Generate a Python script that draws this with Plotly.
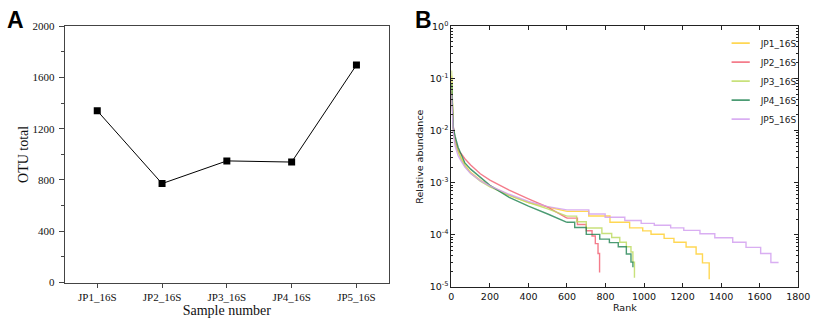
import plotly.graph_objects as go

# ---------------- Panel A data ----------------
samples = ["JP1_16S", "JP2_16S", "JP3_16S", "JP4_16S", "JP5_16S"]
otu_total = [1340, 772, 949, 940, 1697]

# ---------------- Panel B data (rank-abundance curves) ----------------
# smooth head of each curve
head_rank = [1, 5, 10, 20, 35, 50, 70, 100, 150, 200, 300, 400, 500, 600]
jp1_head = [0.112, 0.0251, 0.0105, 0.00603, 0.00398, 0.00302, 0.00219, 0.00158, 0.00112, 8.7e-4, 5.75e-4, 4.17e-4, 3.39e-4, 2.82e-4]
jp2_head = [0.056, 0.0224, 0.012, 0.0063, 0.00417, 0.00363, 0.00288, 0.00219, 0.00148, 0.00112, 7.2e-4, 4.9e-4, 3.39e-4, 2.09e-4]
jp3_head = [0.141, 0.0282, 0.010, 0.00562, 0.0038, 0.00282, 0.00209, 0.00151, 0.00107, 8.3e-4, 5.75e-4, 4.17e-4, 3.16e-4, 2.29e-4]
jp4_head = [0.079, 0.0251, 0.0112, 0.0076, 0.00479, 0.00355, 0.0024, 0.00182, 0.00126, 8.9e-4, 5.25e-4, 3.55e-4, 2.51e-4, 1.74e-4]
jp5_head = [0.050, 0.020, 0.0089, 0.0050, 0.0033, 0.00263, 0.0020, 0.00151, 0.0011, 8.7e-4, 6.0e-4, 4.37e-4, 3.47e-4, 3.02e-4]

# stepped tails (value holds from each rank until the next one)
jp1_tail_rank = [600, 713, 823, 925, 993, 1036, 1104, 1155, 1218, 1270, 1303, 1338]
jp1_tail = [2.82e-4, 2.3e-4, 1.74e-4, 1.36e-4, 1.19e-4, 1.03e-4, 8.55e-5, 7.2e-5, 5.85e-5, 4.3e-5, 2.9e-5, 1.41e-5]
jp2_tail_rank = [600, 654, 700, 730, 747, 761, 769]
jp2_tail = [2.09e-4, 1.58e-4, 1.2e-4, 9.5e-5, 6.8e-5, 4.4e-5, 1.9e-5]
jp3_tail_rank = [600, 650, 700, 781, 832, 874, 908, 932, 942, 950]
jp3_tail = [2.29e-4, 1.78e-4, 1.35e-4, 1.06e-4, 8.9e-5, 7.2e-5, 5.9e-5, 4.7e-5, 3.0e-5, 1.5e-5]
jp4_tail_rank = [600, 640, 700, 770, 820, 866, 908, 932, 942]
jp4_tail = [1.74e-4, 1.38e-4, 1.02e-4, 8.3e-5, 7.1e-5, 5.9e-5, 4.3e-5, 3.0e-5, 2.4e-5]
jp5_tail_rank = [600, 713, 798, 900, 985, 1053, 1138, 1206, 1290, 1367, 1460, 1529, 1605, 1658, 1698]
jp5_tail = [3.02e-4, 2.51e-4, 2.17e-4, 1.89e-4, 1.66e-4, 1.53e-4, 1.36e-4, 1.22e-4, 1.05e-4, 8.8e-5, 7.2e-5, 5.75e-5, 4.4e-5, 2.95e-5, 2.95e-5]

ytick_vals = [1e-5, 1e-4, 1e-3, 1e-2, 1e-1, 1]
ytick_text = ["10<sup>-5</sup>", "10<sup>-4</sup>", "10<sup>-3</sup>", "10<sup>-2</sup>", "10<sup>-1</sup>", "10<sup>0</sup>"]

colors = ["rgba(255,205,40,0.8)", "rgba(240,80,100,0.75)", "rgba(190,220,100,0.85)",
          "rgba(30,130,80,0.8)", "rgba(210,160,240,0.85)"]

heads = [jp1_head, jp2_head, jp3_head, jp4_head, jp5_head]
tails = [(jp1_tail_rank, jp1_tail), (jp2_tail_rank, jp2_tail), (jp3_tail_rank, jp3_tail),
         (jp4_tail_rank, jp4_tail), (jp5_tail_rank, jp5_tail)]

fig = go.Figure()

fig.add_trace(go.Scatter(
    x=samples, y=otu_total, mode="lines+markers",
    line=dict(color="black", width=1),
    marker=dict(symbol="square", size=7, color="black"),
    xaxis="x", yaxis="y", showlegend=False))

for name, col, h, (tr, tv) in zip(samples, colors, heads, tails):
    fig.add_trace(go.Scatter(
        x=head_rank, y=h, mode="lines", name=name, legendgroup=name, showlegend=False,
        line=dict(color=col, width=1.4), xaxis="x2", yaxis="y2"))
    fig.add_trace(go.Scatter(
        x=tr, y=tv, mode="lines", name=name, legendgroup=name, showlegend=False,
        line=dict(color=col, width=1.4, shape="hv"), xaxis="x2", yaxis="y2"))
    # legend key: short horizontal line
    fig.add_trace(go.Scatter(
        x=[None], y=[None], mode="markers", name=name, legendgroup=name,
        marker=dict(symbol="line-ew", size=13, line=dict(color=col, width=1.6)),
        xaxis="x2", yaxis="y2"))

serif = "Liberation Serif"
sans = "DejaVu Sans"
axcol = "#444"

fig.update_layout(
    width=823, height=325,
    margin=dict(l=0, r=0, t=0, b=0),
    paper_bgcolor="white", plot_bgcolor="white",
    xaxis=dict(
        domain=[63/823, 393/823], anchor="y", type="category", range=[-0.5, 4.5],
        showline=True, linecolor=axcol, linewidth=1.3, mirror=True,
        ticks="outside", ticklen=4, tickcolor=axcol, showgrid=False, zeroline=False,
        tickfont=dict(family=serif, size=11, color="#111"),
        title=dict(text="Sample number", font=dict(family=serif, size=14, color="#111"), standoff=2)),
    yaxis=dict(
        domain=[1 - 287/325, 1 - 20/325], anchor="x", range=[0, 2000], dtick=400,
        showline=True, linecolor=axcol, linewidth=1.3, mirror=True,
        ticks="outside", ticklen=5, tickcolor=axcol, showgrid=False, zeroline=False,
        minor=dict(dtick=200, ticks="outside", ticklen=3, tickcolor=axcol),
        ticklabelstandoff=2,
        tickfont=dict(family=serif, size=11, color="#111"),
        title=dict(text="OTU total", font=dict(family=serif, size=14, color="#111"), standoff=0)),
    xaxis2=dict(
        domain=[456.7/823, 810/823], anchor="y2", range=[0, 1800], dtick=200,
        showline=True, linecolor="#222", linewidth=1.2, mirror="allticks",
        ticks="inside", ticklen=4, tickcolor="#222", showgrid=False, zeroline=False,
        tickfont=dict(family=sans, size=9.5, color="#111"),
        title=dict(text="Rank", font=dict(family=sans, size=9.5, color="#111"), standoff=2)),
    yaxis2=dict(
        domain=[1 - 291.7/325, 1 - 20/325], anchor="x2", type="log", range=[-5, 0],
        tickmode="array", tickvals=ytick_vals, ticktext=ytick_text,
        showline=True, linecolor="#222", linewidth=1.2, mirror="allticks",
        ticks="inside", ticklen=4, tickcolor="#222", showgrid=False, zeroline=False,
        minor=dict(ticks="inside", ticklen=2, tickcolor="#222", dtick="D1"),
        tickfont=dict(family=sans, size=9.5, color="#111"),
        title=dict(text="Relative abundance", font=dict(family=sans, size=9.5, color="#111"), standoff=4)),
    legend=dict(x=731/823, y=1 - 22.5/325, xanchor="left", yanchor="top",
                bgcolor="rgba(0,0,0,0)", borderwidth=0,
                font=dict(family=sans, size=9, color="#222"), tracegroupgap=0),
    annotations=[
        dict(text="<b>A</b>", x=2/823, y=1 + 2/325, xref="paper", yref="paper",
             xanchor="left", yanchor="top", showarrow=False,
             font=dict(family="Liberation Sans", size=23, color="black")),
        dict(text="<b>B</b>", x=418/823, y=1 + 2/325, xref="paper", yref="paper",
             xanchor="left", yanchor="top", showarrow=False,
             font=dict(family="Liberation Sans", size=23, color="black")),
    ],
)

fig.write_html("out.html", config={"displayModeBar": False},
               post_script="document.body.style.margin='0px';document.body.style.overflow='hidden';")
